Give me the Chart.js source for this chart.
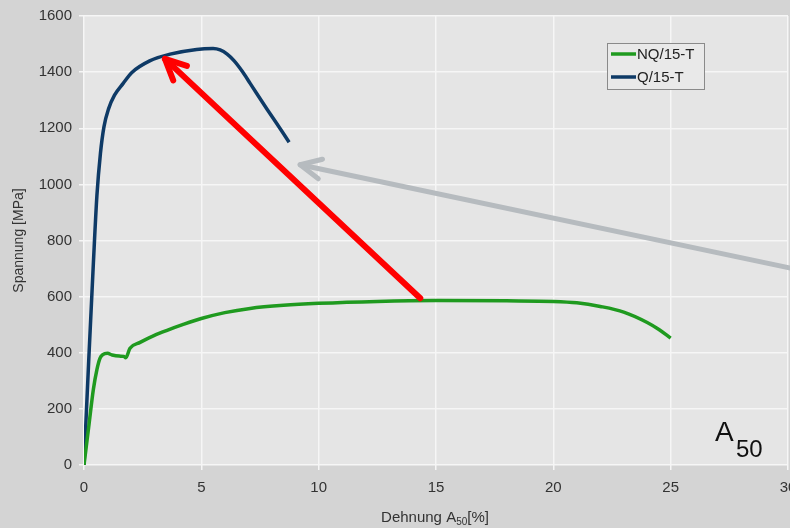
<!DOCTYPE html>
<html>
<head>
<meta charset="utf-8">
<script src="https://cdn.jsdelivr.net/npm/chart.js@4.4.0/dist/chart.umd.min.js"></script>
<style>
  body { margin: 0; background: #d4d4d4; }
  canvas { display: block; }
</style>
</head>
<body>
<canvas id="tensile" width="790" height="528"></canvas>
<script>
// Zugversuch: Spannung ueber Dehnung
const strainQ  = [0, 0.2, 0.4, 0.55, 0.7, 0.85, 1.05, 1.3, 1.67, 2.03, 2.8, 3.67, 4.8, 5.5, 5.8, 6.1, 6.4, 6.75, 7.08, 7.8, 8.49, 8.74];
const stressQ  = [0, 370, 720, 960, 1110, 1205, 1270, 1318, 1360, 1398, 1440, 1464, 1481, 1484, 1479, 1464, 1440, 1402, 1360, 1268, 1182, 1150];

const strainNQ = [0, 0.2, 0.4, 0.55, 0.68, 0.8, 1.0, 1.2, 1.5, 1.7, 1.78, 1.96, 2.39, 3.0, 3.54, 4.2, 5, 6, 7.08, 8.5, 10, 12.5, 15, 18, 20, 21, 22, 23, 24, 24.5, 25];
const stressNQ = [0, 135, 270, 340, 380, 393, 398, 392, 388, 387, 382, 416, 437, 462, 480, 500, 522, 543, 558, 569, 576, 583, 586, 585, 583, 578, 565, 545, 508, 483, 452];

const seriesLabels = ['NQ/15-T', 'Q/15-T'];
const seriesColors = ['#1f9a1f', '#0e3a66'];

// annotation arrows in data units: [fromX, fromY, toX, toY]
const redArrow  = [14.33, 594, 3.45, 1447];
const grayArrow = [30.2, 700, 9.21, 1070];

const xTicks = { min: 0, max: 30, step: 5 };
const yTicks = { min: 0, max: 1600, step: 200 };

const font = '"Liberation Sans", Arial, sans-serif';

function toPoints(xs, ys) {
    return xs.map((x, i) => ({ x: x, y: ys[i] }));
}

function drawArrow(ctx, chart, a, color, width) {
    const sx = chart.scales.x, sy = chart.scales.y;
    const x1 = sx.getPixelForValue(a[0]), y1 = sy.getPixelForValue(a[1]);
    const x2 = sx.getPixelForValue(a[2]), y2 = sy.getPixelForValue(a[3]);
    const ang = Math.atan2(y2 - y1, x2 - x1);
    const head = 23;
    ctx.save();
    ctx.strokeStyle = color;
    ctx.lineWidth = width;
    ctx.lineCap = 'round';
    ctx.lineJoin = 'round';
    ctx.beginPath();
    ctx.moveTo(x1, y1);
    ctx.lineTo(x2, y2);
    ctx.stroke();
    ctx.beginPath();
    ctx.moveTo(x2 - head * Math.cos(ang - 0.45), y2 - head * Math.sin(ang - 0.45));
    ctx.lineTo(x2, y2);
    ctx.lineTo(x2 - head * Math.cos(ang + 0.45), y2 - head * Math.sin(ang + 0.45));
    ctx.stroke();
    ctx.restore();
}

const extras = {
    id: 'extras',
    beforeDraw(chart) {
        const ctx = chart.ctx, a = chart.chartArea;
        ctx.save();
        ctx.fillStyle = '#d4d4d4';
        ctx.fillRect(0, 0, chart.width, chart.height);
        ctx.fillStyle = '#e5e5e5';
        ctx.fillRect(a.left, a.top, a.right - a.left, a.bottom - a.top);
        ctx.restore();
    },
    afterDatasetsDraw(chart) {
        const ctx = chart.ctx;
        drawArrow(ctx, chart, grayArrow, '#b6bbbf', 5);
        drawArrow(ctx, chart, redArrow, '#ff0000', 6);
    },
    afterDraw(chart) {
        const ctx = chart.ctx;
        ctx.save();
        // legend box
        ctx.fillStyle = '#e9e9e9';
        ctx.fillRect(607.5, 43.5, 97, 46);
        ctx.strokeStyle = '#8a8a8a';
        ctx.lineWidth = 1;
        ctx.strokeRect(607.5, 43.5, 97, 46);
        ctx.font = '15px ' + font;
        ctx.textBaseline = 'middle';
        chart.data.datasets.forEach((ds, i) => {
            const y = 54 + i * 23;
            ctx.strokeStyle = ds.borderColor;
            ctx.lineWidth = 3.5;
            ctx.beginPath();
            ctx.moveTo(611, y);
            ctx.lineTo(636, y);
            ctx.stroke();
            ctx.fillStyle = '#222';
            ctx.fillText(ds.label, 637, y + 1);
        });

        // x axis title with subscript
        ctx.fillStyle = '#333';
        ctx.textBaseline = 'alphabetic';
        const p1 = 'Dehnung A', p2 = '50', p3 = '[%]';
        ctx.font = '15px ' + font;
        const w1 = ctx.measureText(p1).width, w3 = ctx.measureText(p3).width;
        ctx.font = '10px ' + font;
        const w2 = ctx.measureText(p2).width;
        let x = 435 - (w1 + w2 + w3) / 2;
        ctx.font = '15px ' + font;
        ctx.fillText(p1, x, 522);
        x += w1;
        ctx.font = '10px ' + font;
        ctx.fillText(p2, x, 525);
        x += w2;
        ctx.font = '15px ' + font;
        ctx.fillText(p3, x, 522);

        // big A50 label
        ctx.fillStyle = '#111';
        ctx.font = '28px ' + font;
        ctx.fillText('A', 715, 441);
        ctx.font = '24px ' + font;
        ctx.fillText('50', 736, 457);
        ctx.restore();
    }
};

new Chart(document.getElementById('tensile').getContext('2d'), {
    type: 'scatter',
    data: {
        datasets: [{
            label: seriesLabels[0],
            data: toPoints(strainNQ, stressNQ),
            borderColor: seriesColors[0],
            showLine: true,
            borderWidth: 3.5,
            pointRadius: 0,
            cubicInterpolationMode: 'monotone'
        }, {
            label: seriesLabels[1],
            data: toPoints(strainQ, stressQ),
            borderColor: seriesColors[1],
            showLine: true,
            borderWidth: 3.5,
            pointRadius: 0,
            cubicInterpolationMode: 'monotone'
        }]
    },
    options: {
        responsive: false,
        animation: false,
        layout: { padding: { top: 15, right: 2, left: 0, bottom: 0 } },
        plugins: {
            legend: { display: false },
            tooltip: { enabled: false }
        },
        scales: {
            x: {
                type: 'linear',
                min: xTicks.min,
                max: xTicks.max,
                border: { display: false },
                grid: { color: '#f6f6f6', lineWidth: 1.5, tickLength: 5 },
                ticks: {
                    stepSize: xTicks.step,
                    color: '#333',
                    padding: 9,
                    maxRotation: 0,
                    callback: v => String(v),
                    font: { size: 15, family: font }
                },
                afterFit(scale) {
                    scale.height = 63;
                    scale.paddingLeft = 0;
                    scale.paddingRight = 0;
                }
            },
            y: {
                min: yTicks.min,
                max: yTicks.max,
                border: { display: false },
                grid: { color: '#f6f6f6', lineWidth: 1.5, tickLength: 5 },
                ticks: {
                    stepSize: yTicks.step,
                    color: '#333',
                    padding: 7,
                    callback: v => String(v),
                    font: { size: 15, family: font }
                },
                title: {
                    display: true,
                    text: 'Spannung [MPa]',
                    color: '#333',
                    padding: { top: 11, bottom: 0 },
                    font: { size: 14, family: font }
                },
                afterFit(scale) {
                    scale.width = 84;
                }
            }
        }
    },
    plugins: [extras]
});
</script>
</body>
</html>
